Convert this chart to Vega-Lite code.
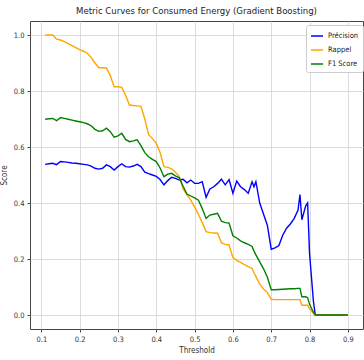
{
  "$schema": "https://vega.github.io/schema/vega-lite/v6.json",
  "width": 333,
  "height": 308,
  "autosize": "none",
  "padding": {"left": 30, "top": 21, "right": 1, "bottom": 31},
  "background": "white",
  "title": {"text": "Metric Curves for Consumed Energy (Gradient Boosting)", "font": "DejaVu Sans Condensed, DejaVu Sans", "fontSize": 9.5, "fontWeight": "normal", "color": "#222", "offset": 6, "anchor": "middle"},
  "config": {
    "view": {"stroke": "#444", "strokeWidth": 1},
    "axis": {"labelFont": "DejaVu Sans Condensed, DejaVu Sans", "labelFontSize": 7.5, "labelColor": "#333", "titleFont": "DejaVu Sans Condensed, DejaVu Sans", "titleFontSize": 8, "titleFontWeight": "normal", "titleColor": "#333", "gridColor": "#d3d3d3", "gridWidth": 0.8, "tickColor": "#444", "tickSize": 3, "domain": false}
  },
  "data": {"values": [
    {"t": 0.11, "Précision": 0.538, "Rappel": 1.0, "F1 Score": 0.699},
    {"t": 0.12, "Précision": 0.540, "Rappel": 1.0, "F1 Score": 0.701},
    {"t": 0.13, "Précision": 0.542, "Rappel": 1.0, "F1 Score": 0.702},
    {"t": 0.14, "Précision": 0.537, "Rappel": 0.985, "F1 Score": 0.694},
    {"t": 0.15, "Précision": 0.548, "Rappel": 0.982, "F1 Score": 0.705},
    {"t": 0.16, "Précision": 0.547, "Rappel": 0.976, "F1 Score": 0.702},
    {"t": 0.17, "Précision": 0.545, "Rappel": 0.969, "F1 Score": 0.699},
    {"t": 0.18, "Précision": 0.543, "Rappel": 0.962, "F1 Score": 0.696},
    {"t": 0.19, "Précision": 0.542, "Rappel": 0.955, "F1 Score": 0.693},
    {"t": 0.20, "Précision": 0.540, "Rappel": 0.948, "F1 Score": 0.690},
    {"t": 0.21, "Précision": 0.538, "Rappel": 0.942, "F1 Score": 0.687},
    {"t": 0.22, "Précision": 0.536, "Rappel": 0.935, "F1 Score": 0.683},
    {"t": 0.23, "Précision": 0.532, "Rappel": 0.920, "F1 Score": 0.676},
    {"t": 0.24, "Précision": 0.524, "Rappel": 0.900, "F1 Score": 0.663},
    {"t": 0.25, "Précision": 0.521, "Rappel": 0.883, "F1 Score": 0.656},
    {"t": 0.26, "Précision": 0.524, "Rappel": 0.883, "F1 Score": 0.658},
    {"t": 0.27, "Précision": 0.536, "Rappel": 0.882, "F1 Score": 0.667},
    {"t": 0.28, "Précision": 0.530, "Rappel": 0.855, "F1 Score": 0.655},
    {"t": 0.29, "Précision": 0.518, "Rappel": 0.815, "F1 Score": 0.635},
    {"t": 0.30, "Précision": 0.530, "Rappel": 0.815, "F1 Score": 0.640},
    {"t": 0.31, "Précision": 0.540, "Rappel": 0.813, "F1 Score": 0.649},
    {"t": 0.32, "Précision": 0.530, "Rappel": 0.785, "F1 Score": 0.627},
    {"t": 0.33, "Précision": 0.528, "Rappel": 0.750, "F1 Score": 0.619},
    {"t": 0.34, "Précision": 0.532, "Rappel": 0.748, "F1 Score": 0.622},
    {"t": 0.35, "Précision": 0.538, "Rappel": 0.747, "F1 Score": 0.626},
    {"t": 0.36, "Précision": 0.530, "Rappel": 0.745, "F1 Score": 0.605},
    {"t": 0.37, "Précision": 0.510, "Rappel": 0.700, "F1 Score": 0.580},
    {"t": 0.38, "Précision": 0.505, "Rappel": 0.645, "F1 Score": 0.565},
    {"t": 0.39, "Précision": 0.500, "Rappel": 0.630, "F1 Score": 0.556},
    {"t": 0.40, "Précision": 0.495, "Rappel": 0.613, "F1 Score": 0.548},
    {"t": 0.41, "Précision": 0.484, "Rappel": 0.580, "F1 Score": 0.525},
    {"t": 0.42, "Précision": 0.465, "Rappel": 0.530, "F1 Score": 0.494},
    {"t": 0.43, "Précision": 0.480, "Rappel": 0.527, "F1 Score": 0.503},
    {"t": 0.44, "Précision": 0.492, "Rappel": 0.522, "F1 Score": 0.506},
    {"t": 0.45, "Précision": 0.488, "Rappel": 0.510, "F1 Score": 0.497},
    {"t": 0.46, "Précision": 0.482, "Rappel": 0.495, "F1 Score": 0.490},
    {"t": 0.47, "Précision": 0.485, "Rappel": 0.450, "F1 Score": 0.460},
    {"t": 0.48, "Précision": 0.472, "Rappel": 0.430, "F1 Score": 0.432},
    {"t": 0.49, "Précision": 0.482, "Rappel": 0.410, "F1 Score": 0.425},
    {"t": 0.50, "Précision": 0.470, "Rappel": 0.385, "F1 Score": 0.418},
    {"t": 0.51, "Précision": 0.470, "Rappel": 0.360, "F1 Score": 0.410},
    {"t": 0.52, "Précision": 0.476, "Rappel": 0.330, "F1 Score": 0.380},
    {"t": 0.53, "Précision": 0.420, "Rappel": 0.298, "F1 Score": 0.345},
    {"t": 0.54, "Précision": 0.450, "Rappel": 0.294, "F1 Score": 0.357},
    {"t": 0.55, "Précision": 0.458, "Rappel": 0.293, "F1 Score": 0.360},
    {"t": 0.56, "Précision": 0.470, "Rappel": 0.292, "F1 Score": 0.363},
    {"t": 0.57, "Précision": 0.485, "Rappel": 0.258, "F1 Score": 0.335},
    {"t": 0.58, "Précision": 0.465, "Rappel": 0.252, "F1 Score": 0.330},
    {"t": 0.59, "Précision": 0.484, "Rappel": 0.250, "F1 Score": 0.328},
    {"t": 0.60, "Précision": 0.435, "Rappel": 0.205, "F1 Score": 0.283},
    {"t": 0.61, "Précision": 0.478, "Rappel": 0.195, "F1 Score": 0.275},
    {"t": 0.62, "Précision": 0.458, "Rappel": 0.188, "F1 Score": 0.265},
    {"t": 0.63, "Précision": 0.448, "Rappel": 0.180, "F1 Score": 0.258},
    {"t": 0.64, "Précision": 0.435, "Rappel": 0.173, "F1 Score": 0.252},
    {"t": 0.65, "Précision": 0.476, "Rappel": 0.167, "F1 Score": 0.245},
    {"t": 0.655, "Précision": 0.458, "Rappel": 0.150, "F1 Score": 0.228},
    {"t": 0.66, "Précision": 0.476, "Rappel": 0.138, "F1 Score": 0.215},
    {"t": 0.67, "Précision": 0.400, "Rappel": 0.110, "F1 Score": 0.190},
    {"t": 0.68, "Précision": 0.360, "Rappel": 0.093, "F1 Score": 0.165},
    {"t": 0.69, "Précision": 0.320, "Rappel": 0.080, "F1 Score": 0.135},
    {"t": 0.70, "Précision": 0.235, "Rappel": 0.056, "F1 Score": 0.090},
    {"t": 0.71, "Précision": 0.240, "Rappel": 0.055, "F1 Score": 0.090},
    {"t": 0.72, "Précision": 0.248, "Rappel": 0.055, "F1 Score": 0.091},
    {"t": 0.73, "Précision": 0.285, "Rappel": 0.055, "F1 Score": 0.092},
    {"t": 0.74, "Précision": 0.310, "Rappel": 0.055, "F1 Score": 0.093},
    {"t": 0.75, "Précision": 0.325, "Rappel": 0.055, "F1 Score": 0.094},
    {"t": 0.76, "Précision": 0.345, "Rappel": 0.055, "F1 Score": 0.094},
    {"t": 0.77, "Précision": 0.375, "Rappel": 0.055, "F1 Score": 0.095},
    {"t": 0.775, "Précision": 0.430, "Rappel": 0.055, "F1 Score": 0.095},
    {"t": 0.78, "Précision": 0.340, "Rappel": 0.035, "F1 Score": 0.065},
    {"t": 0.79, "Précision": 0.390, "Rappel": 0.035, "F1 Score": 0.065},
    {"t": 0.795, "Précision": 0.400, "Rappel": 0.035, "F1 Score": 0.062},
    {"t": 0.80, "Précision": 0.220, "Rappel": 0.022, "F1 Score": 0.038},
    {"t": 0.81, "Précision": 0.050, "Rappel": 0.006, "F1 Score": 0.010},
    {"t": 0.815, "Précision": 0, "Rappel": 0, "F1 Score": 0},
    {"t": 0.82, "Précision": 0, "Rappel": 0, "F1 Score": 0},
    {"t": 0.83, "Précision": 0, "Rappel": 0, "F1 Score": 0},
    {"t": 0.84, "Précision": 0, "Rappel": 0, "F1 Score": 0},
    {"t": 0.85, "Précision": 0, "Rappel": 0, "F1 Score": 0},
    {"t": 0.86, "Précision": 0, "Rappel": 0, "F1 Score": 0},
    {"t": 0.87, "Précision": 0, "Rappel": 0, "F1 Score": 0},
    {"t": 0.88, "Précision": 0, "Rappel": 0, "F1 Score": 0},
    {"t": 0.89, "Précision": 0, "Rappel": 0, "F1 Score": 0},
    {"t": 0.90, "Précision": 0, "Rappel": 0, "F1 Score": 0}
  ]},
  "transform": [{"fold": ["Précision", "Rappel", "F1 Score"], "as": ["metric", "value"]}],
  "mark": {"type": "line", "strokeWidth": 1.4, "clip": true},
  "encoding": {
    "x": {"field": "t", "type": "quantitative", "scale": {"domain": [0.0705, 0.9395], "nice": false, "zero": false},
      "axis": {"title": "Threshold", "values": [0.1, 0.2, 0.3, 0.4, 0.5, 0.6, 0.7, 0.8, 0.9], "format": ".1f", "labelPadding": 3, "titlePadding": 4}},
    "y": {"field": "value", "type": "quantitative", "scale": {"domain": [-0.05, 1.05], "nice": false, "zero": false},
      "axis": {"title": "Score", "values": [0, 0.2, 0.4, 0.6, 0.8, 1.0], "format": ".1f", "labelPadding": 3, "titlePadding": 5}},
    "color": {"field": "metric", "type": "nominal", "scale": {"domain": ["Précision", "Rappel", "F1 Score"], "range": ["#0000ff", "#ffa500", "#008000"]},
      "legend": {"title": null, "orient": "none", "legendX": 276, "legendY": 4, "symbolType": "stroke", "symbolSize": 144, "symbolStrokeWidth": 1.5, "labelFont": "DejaVu Sans Condensed, DejaVu Sans", "labelFontSize": 7.5, "labelColor": "#222", "fillColor": "white", "strokeColor": "#cccccc", "padding": 4, "cornerRadius": 2, "rowPadding": 3, "labelOffset": 4}},
    "order": {"field": "t", "type": "quantitative"}
  }
}
